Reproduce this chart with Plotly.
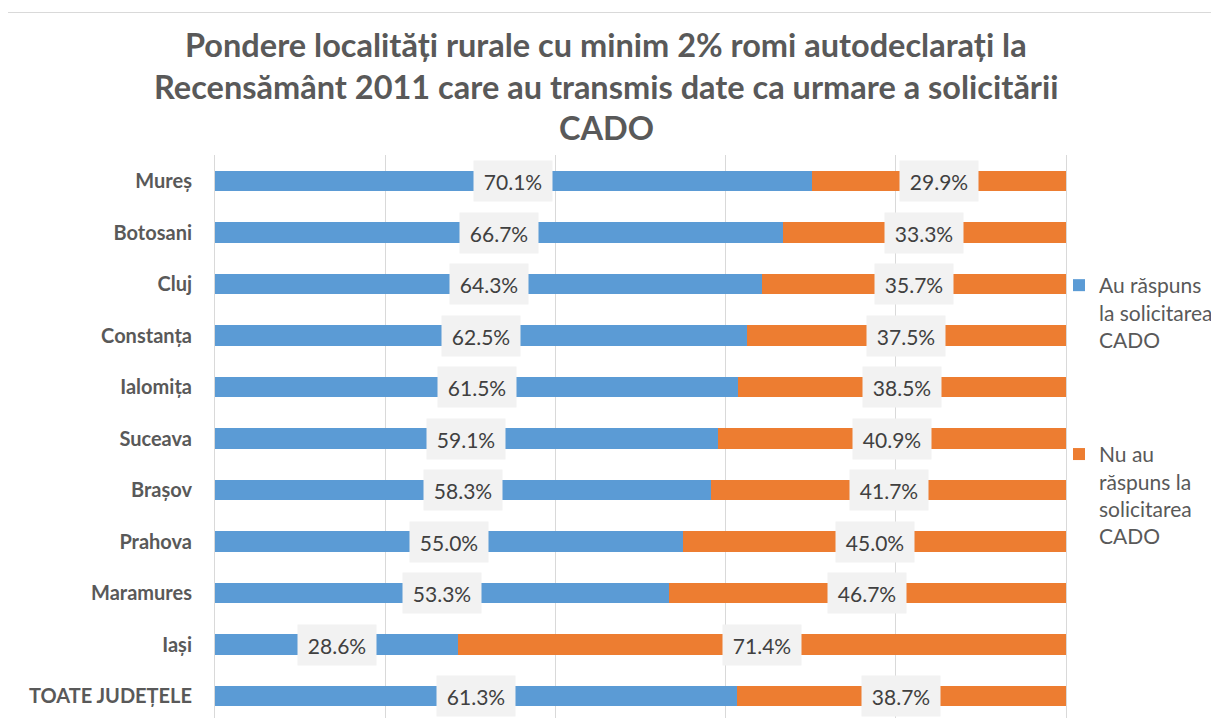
import plotly.graph_objects as go

categories = ["Mureș", "Botosani", "Cluj", "Constanța", "Ialomița", "Suceava",
              "Brașov", "Prahova", "Maramures", "Iași", "TOATE JUDEȚELE"]
au_raspuns = [70.1, 66.7, 64.3, 62.5, 61.5, 59.1, 58.3, 55.0, 53.3, 28.6, 61.3]
nu_au_raspuns = [29.9, 33.3, 35.7, 37.5, 38.5, 40.9, 41.7, 45.0, 46.7, 71.4, 38.7]
series_names = ["Au răspuns<br>la solicitarea<br>CADO", "Nu au<br>răspuns la<br>solicitarea<br>CADO"]
title_lines = ["Pondere localități rurale cu minim 2% romi autodeclarați la",
               "Recensământ 2011 care au transmis date ca urmare a solicitării",
               "CADO"]

BLUE = "#5B9BD5"
ORANGE = "#ED7D31"
GRAY_TXT = "#595959"
FONT = "Lato"

OFF = 8  # page body margin
W, H = 1211, 710
L = 215 - OFF
R = W - (1066 - OFF)
T = 155 - OFF
B = 0
pw, ph = W - L - R, H - T - B

def px_x(p):
    return (p - OFF - L) / pw

def px_y(p):
    return (H - B - (p - OFF)) / ph

# y range: category spacing 51.5 px, plot area bottom cut by the window
bottom_val = 10 + (718 - 696) / 51.5
top_val = bottom_val - ph / 51.5

fig = go.Figure()
fig.add_trace(go.Bar(y=categories, x=au_raspuns, orientation="h", name=series_names[0],
                     marker=dict(color=BLUE, line=dict(width=0)), width=0.39,
                     legendgroup="a", hoverinfo="x+y"))
fig.add_trace(go.Bar(y=categories, x=nu_au_raspuns, orientation="h", name=series_names[1],
                     marker=dict(color=ORANGE, line=dict(width=0)), width=0.39,
                     legendgroup="b", hoverinfo="x+y"))

annotations = []
for c, a, n in zip(categories, au_raspuns, nu_au_raspuns):
    for xv, v in ((a / 2, a), (a + n / 2, n)):
        annotations.append(dict(x=xv, y=c, xref="x", yref="y", text=f"{v:.1f}%",
                                showarrow=False, bgcolor="#F2F2F2", width=76, height=38,
                                font=dict(family=FONT, size=21, color="#404040")))

title_y = [45, 86, 127]
for line, yy in zip(title_lines, title_y):
    annotations.append(dict(x=px_x(606), y=px_y(yy), xref="paper", yref="paper",
                            text=f"<b>{line}</b>", showarrow=False, xanchor="center",
                            yanchor="middle",
                            font=dict(family=FONT, size=32.5, color=GRAY_TXT)))

fig.update_layout(
    barmode="stack",
    width=W, height=H,
    margin=dict(l=L, r=R, t=T, b=B, pad=0),
    paper_bgcolor="white", plot_bgcolor="white",
    font=dict(family=FONT, color=GRAY_TXT),
    annotations=annotations,
    showlegend=True,
    legend=dict(x=px_x(1059), y=px_y(265), xanchor="left", yanchor="top",
                font=dict(family=FONT, size=21, color=GRAY_TXT),
                traceorder="grouped", tracegroupgap=84, valign="top",
                bgcolor="rgba(0,0,0,0)"),
    shapes=[dict(type="rect", xref="paper", yref="paper",
                 x0=px_x(4.5), x1=px_x(1217.5), y0=px_y(12.5), y1=px_y(760),
                 line=dict(color="#D9D9D9", width=1), fillcolor="rgba(0,0,0,0)",
                 layer="below")],
)
fig.update_xaxes(range=[0, 100], tick0=0, dtick=20, showgrid=True, gridcolor="#D9D9D9",
                 gridwidth=1, zeroline=False, showticklabels=False, ticks="",
                 showline=False, fixedrange=True)
fig.update_yaxes(range=[bottom_val, top_val], type="category", showgrid=False, showline=True,
                 mirror=True, linecolor="#D9D9D9", linewidth=1, ticks="",
                 ticklabelstandoff=18,
                 tickfont=dict(family=FONT, size=20, color=GRAY_TXT, weight="bold"),
                 fixedrange=True)

fig.write_html("out.html")
